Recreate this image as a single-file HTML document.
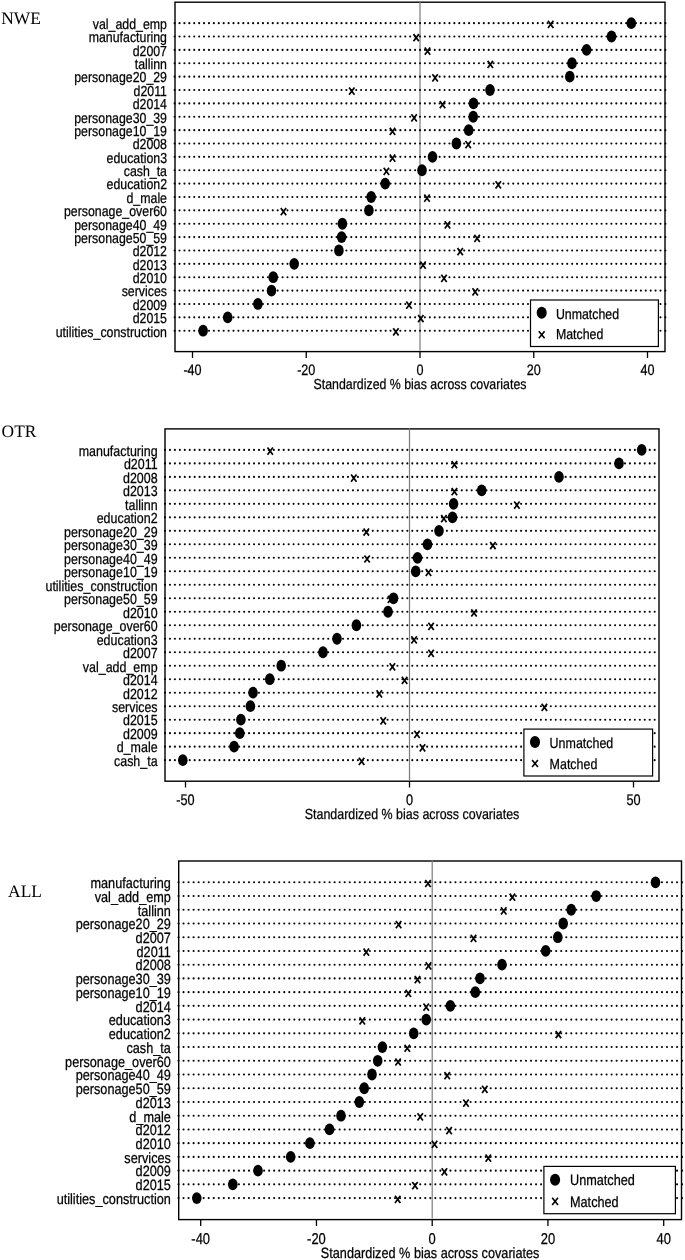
<!DOCTYPE html><html><head><meta charset="utf-8"><title>pstest</title><style>html,body{margin:0;padding:0;background:#fff;}body{width:685px;height:1260px;overflow:hidden;}svg{display:block;will-change:transform;}.t{font-family:"Liberation Sans", sans-serif;font-size:14.5px;fill:#000;stroke:#000;stroke-width:0.25px;text-rendering:geometricPrecision;}.n{font-family:"Liberation Serif", serif;fill:#000;text-rendering:geometricPrecision;}</style></head><body>
<svg width="685" height="1260" viewBox="0 0 685 1260">
<rect width="685" height="1260" fill="#fff"/>
<defs><g id="r0"><circle cx="174.6" cy="0" r="1.05"/><circle cx="179.51" cy="0" r="1.05"/><circle cx="184.42" cy="0" r="1.05"/><circle cx="189.32" cy="0" r="1.05"/><circle cx="194.23" cy="0" r="1.05"/><circle cx="199.14" cy="0" r="1.05"/><circle cx="204.05" cy="0" r="1.05"/><circle cx="208.96" cy="0" r="1.05"/><circle cx="213.86" cy="0" r="1.05"/><circle cx="218.77" cy="0" r="1.05"/><circle cx="223.68" cy="0" r="1.05"/><circle cx="228.59" cy="0" r="1.05"/><circle cx="233.5" cy="0" r="1.05"/><circle cx="238.4" cy="0" r="1.05"/><circle cx="243.31" cy="0" r="1.05"/><circle cx="248.22" cy="0" r="1.05"/><circle cx="253.13" cy="0" r="1.05"/><circle cx="258.04" cy="0" r="1.05"/><circle cx="262.94" cy="0" r="1.05"/><circle cx="267.85" cy="0" r="1.05"/><circle cx="272.76" cy="0" r="1.05"/><circle cx="277.67" cy="0" r="1.05"/><circle cx="282.58" cy="0" r="1.05"/><circle cx="287.48" cy="0" r="1.05"/><circle cx="292.39" cy="0" r="1.05"/><circle cx="297.3" cy="0" r="1.05"/><circle cx="302.21" cy="0" r="1.05"/><circle cx="307.12" cy="0" r="1.05"/><circle cx="312.02" cy="0" r="1.05"/><circle cx="316.93" cy="0" r="1.05"/><circle cx="321.84" cy="0" r="1.05"/><circle cx="326.75" cy="0" r="1.05"/><circle cx="331.66" cy="0" r="1.05"/><circle cx="336.56" cy="0" r="1.05"/><circle cx="341.47" cy="0" r="1.05"/><circle cx="346.38" cy="0" r="1.05"/><circle cx="351.29" cy="0" r="1.05"/><circle cx="356.2" cy="0" r="1.05"/><circle cx="361.1" cy="0" r="1.05"/><circle cx="366.01" cy="0" r="1.05"/><circle cx="370.92" cy="0" r="1.05"/><circle cx="375.83" cy="0" r="1.05"/><circle cx="380.74" cy="0" r="1.05"/><circle cx="385.64" cy="0" r="1.05"/><circle cx="390.55" cy="0" r="1.05"/><circle cx="395.46" cy="0" r="1.05"/><circle cx="400.37" cy="0" r="1.05"/><circle cx="405.28" cy="0" r="1.05"/><circle cx="410.18" cy="0" r="1.05"/><circle cx="415.09" cy="0" r="1.05"/><circle cx="420" cy="0" r="1.05"/><circle cx="424.91" cy="0" r="1.05"/><circle cx="429.82" cy="0" r="1.05"/><circle cx="434.72" cy="0" r="1.05"/><circle cx="439.63" cy="0" r="1.05"/><circle cx="444.54" cy="0" r="1.05"/><circle cx="449.45" cy="0" r="1.05"/><circle cx="454.36" cy="0" r="1.05"/><circle cx="459.26" cy="0" r="1.05"/><circle cx="464.17" cy="0" r="1.05"/><circle cx="469.08" cy="0" r="1.05"/><circle cx="473.99" cy="0" r="1.05"/><circle cx="478.9" cy="0" r="1.05"/><circle cx="483.8" cy="0" r="1.05"/><circle cx="488.71" cy="0" r="1.05"/><circle cx="493.62" cy="0" r="1.05"/><circle cx="498.53" cy="0" r="1.05"/><circle cx="503.44" cy="0" r="1.05"/><circle cx="508.34" cy="0" r="1.05"/><circle cx="513.25" cy="0" r="1.05"/><circle cx="518.16" cy="0" r="1.05"/><circle cx="523.07" cy="0" r="1.05"/><circle cx="527.98" cy="0" r="1.05"/><circle cx="532.88" cy="0" r="1.05"/><circle cx="537.79" cy="0" r="1.05"/><circle cx="542.7" cy="0" r="1.05"/><circle cx="547.61" cy="0" r="1.05"/><circle cx="552.52" cy="0" r="1.05"/><circle cx="557.42" cy="0" r="1.05"/><circle cx="562.33" cy="0" r="1.05"/><circle cx="567.24" cy="0" r="1.05"/><circle cx="572.15" cy="0" r="1.05"/><circle cx="577.06" cy="0" r="1.05"/><circle cx="581.96" cy="0" r="1.05"/><circle cx="586.87" cy="0" r="1.05"/><circle cx="591.78" cy="0" r="1.05"/><circle cx="596.69" cy="0" r="1.05"/><circle cx="601.6" cy="0" r="1.05"/><circle cx="606.5" cy="0" r="1.05"/><circle cx="611.41" cy="0" r="1.05"/><circle cx="616.32" cy="0" r="1.05"/><circle cx="621.23" cy="0" r="1.05"/><circle cx="626.14" cy="0" r="1.05"/><circle cx="631.04" cy="0" r="1.05"/><circle cx="635.95" cy="0" r="1.05"/><circle cx="640.86" cy="0" r="1.05"/><circle cx="645.77" cy="0" r="1.05"/><circle cx="650.68" cy="0" r="1.05"/><circle cx="655.58" cy="0" r="1.05"/><circle cx="660.49" cy="0" r="1.05"/><circle cx="665.4" cy="0" r="1.05"/></g><g id="r1"><circle cx="165" cy="0" r="1.05"/><circle cx="169.95" cy="0" r="1.05"/><circle cx="174.89" cy="0" r="1.05"/><circle cx="179.84" cy="0" r="1.05"/><circle cx="184.78" cy="0" r="1.05"/><circle cx="189.73" cy="0" r="1.05"/><circle cx="194.68" cy="0" r="1.05"/><circle cx="199.62" cy="0" r="1.05"/><circle cx="204.57" cy="0" r="1.05"/><circle cx="209.51" cy="0" r="1.05"/><circle cx="214.46" cy="0" r="1.05"/><circle cx="219.41" cy="0" r="1.05"/><circle cx="224.35" cy="0" r="1.05"/><circle cx="229.3" cy="0" r="1.05"/><circle cx="234.24" cy="0" r="1.05"/><circle cx="239.19" cy="0" r="1.05"/><circle cx="244.14" cy="0" r="1.05"/><circle cx="249.08" cy="0" r="1.05"/><circle cx="254.03" cy="0" r="1.05"/><circle cx="258.97" cy="0" r="1.05"/><circle cx="263.92" cy="0" r="1.05"/><circle cx="268.87" cy="0" r="1.05"/><circle cx="273.81" cy="0" r="1.05"/><circle cx="278.76" cy="0" r="1.05"/><circle cx="283.7" cy="0" r="1.05"/><circle cx="288.65" cy="0" r="1.05"/><circle cx="293.6" cy="0" r="1.05"/><circle cx="298.54" cy="0" r="1.05"/><circle cx="303.49" cy="0" r="1.05"/><circle cx="308.43" cy="0" r="1.05"/><circle cx="313.38" cy="0" r="1.05"/><circle cx="318.33" cy="0" r="1.05"/><circle cx="323.27" cy="0" r="1.05"/><circle cx="328.22" cy="0" r="1.05"/><circle cx="333.16" cy="0" r="1.05"/><circle cx="338.11" cy="0" r="1.05"/><circle cx="343.06" cy="0" r="1.05"/><circle cx="348" cy="0" r="1.05"/><circle cx="352.95" cy="0" r="1.05"/><circle cx="357.89" cy="0" r="1.05"/><circle cx="362.84" cy="0" r="1.05"/><circle cx="367.79" cy="0" r="1.05"/><circle cx="372.73" cy="0" r="1.05"/><circle cx="377.68" cy="0" r="1.05"/><circle cx="382.62" cy="0" r="1.05"/><circle cx="387.57" cy="0" r="1.05"/><circle cx="392.52" cy="0" r="1.05"/><circle cx="397.46" cy="0" r="1.05"/><circle cx="402.41" cy="0" r="1.05"/><circle cx="407.35" cy="0" r="1.05"/><circle cx="412.3" cy="0" r="1.05"/><circle cx="417.25" cy="0" r="1.05"/><circle cx="422.19" cy="0" r="1.05"/><circle cx="427.14" cy="0" r="1.05"/><circle cx="432.08" cy="0" r="1.05"/><circle cx="437.03" cy="0" r="1.05"/><circle cx="441.98" cy="0" r="1.05"/><circle cx="446.92" cy="0" r="1.05"/><circle cx="451.87" cy="0" r="1.05"/><circle cx="456.81" cy="0" r="1.05"/><circle cx="461.76" cy="0" r="1.05"/><circle cx="466.71" cy="0" r="1.05"/><circle cx="471.65" cy="0" r="1.05"/><circle cx="476.6" cy="0" r="1.05"/><circle cx="481.54" cy="0" r="1.05"/><circle cx="486.49" cy="0" r="1.05"/><circle cx="491.44" cy="0" r="1.05"/><circle cx="496.38" cy="0" r="1.05"/><circle cx="501.33" cy="0" r="1.05"/><circle cx="506.27" cy="0" r="1.05"/><circle cx="511.22" cy="0" r="1.05"/><circle cx="516.17" cy="0" r="1.05"/><circle cx="521.11" cy="0" r="1.05"/><circle cx="526.06" cy="0" r="1.05"/><circle cx="531" cy="0" r="1.05"/><circle cx="535.95" cy="0" r="1.05"/><circle cx="540.9" cy="0" r="1.05"/><circle cx="545.84" cy="0" r="1.05"/><circle cx="550.79" cy="0" r="1.05"/><circle cx="555.73" cy="0" r="1.05"/><circle cx="560.68" cy="0" r="1.05"/><circle cx="565.63" cy="0" r="1.05"/><circle cx="570.57" cy="0" r="1.05"/><circle cx="575.52" cy="0" r="1.05"/><circle cx="580.46" cy="0" r="1.05"/><circle cx="585.41" cy="0" r="1.05"/><circle cx="590.36" cy="0" r="1.05"/><circle cx="595.3" cy="0" r="1.05"/><circle cx="600.25" cy="0" r="1.05"/><circle cx="605.19" cy="0" r="1.05"/><circle cx="610.14" cy="0" r="1.05"/><circle cx="615.09" cy="0" r="1.05"/><circle cx="620.03" cy="0" r="1.05"/><circle cx="624.98" cy="0" r="1.05"/><circle cx="629.92" cy="0" r="1.05"/><circle cx="634.87" cy="0" r="1.05"/><circle cx="639.82" cy="0" r="1.05"/><circle cx="644.76" cy="0" r="1.05"/><circle cx="649.71" cy="0" r="1.05"/><circle cx="654.65" cy="0" r="1.05"/></g><g id="r2"><circle cx="178.5" cy="0" r="1.05"/><circle cx="183.54" cy="0" r="1.05"/><circle cx="188.57" cy="0" r="1.05"/><circle cx="193.61" cy="0" r="1.05"/><circle cx="198.64" cy="0" r="1.05"/><circle cx="203.68" cy="0" r="1.05"/><circle cx="208.72" cy="0" r="1.05"/><circle cx="213.75" cy="0" r="1.05"/><circle cx="218.79" cy="0" r="1.05"/><circle cx="223.82" cy="0" r="1.05"/><circle cx="228.86" cy="0" r="1.05"/><circle cx="233.9" cy="0" r="1.05"/><circle cx="238.93" cy="0" r="1.05"/><circle cx="243.97" cy="0" r="1.05"/><circle cx="249" cy="0" r="1.05"/><circle cx="254.04" cy="0" r="1.05"/><circle cx="259.08" cy="0" r="1.05"/><circle cx="264.11" cy="0" r="1.05"/><circle cx="269.15" cy="0" r="1.05"/><circle cx="274.18" cy="0" r="1.05"/><circle cx="279.22" cy="0" r="1.05"/><circle cx="284.26" cy="0" r="1.05"/><circle cx="289.29" cy="0" r="1.05"/><circle cx="294.33" cy="0" r="1.05"/><circle cx="299.36" cy="0" r="1.05"/><circle cx="304.4" cy="0" r="1.05"/><circle cx="309.44" cy="0" r="1.05"/><circle cx="314.47" cy="0" r="1.05"/><circle cx="319.51" cy="0" r="1.05"/><circle cx="324.54" cy="0" r="1.05"/><circle cx="329.58" cy="0" r="1.05"/><circle cx="334.62" cy="0" r="1.05"/><circle cx="339.65" cy="0" r="1.05"/><circle cx="344.69" cy="0" r="1.05"/><circle cx="349.72" cy="0" r="1.05"/><circle cx="354.76" cy="0" r="1.05"/><circle cx="359.8" cy="0" r="1.05"/><circle cx="364.83" cy="0" r="1.05"/><circle cx="369.87" cy="0" r="1.05"/><circle cx="374.9" cy="0" r="1.05"/><circle cx="379.94" cy="0" r="1.05"/><circle cx="384.98" cy="0" r="1.05"/><circle cx="390.01" cy="0" r="1.05"/><circle cx="395.05" cy="0" r="1.05"/><circle cx="400.08" cy="0" r="1.05"/><circle cx="405.12" cy="0" r="1.05"/><circle cx="410.16" cy="0" r="1.05"/><circle cx="415.19" cy="0" r="1.05"/><circle cx="420.23" cy="0" r="1.05"/><circle cx="425.26" cy="0" r="1.05"/><circle cx="430.3" cy="0" r="1.05"/><circle cx="435.34" cy="0" r="1.05"/><circle cx="440.37" cy="0" r="1.05"/><circle cx="445.41" cy="0" r="1.05"/><circle cx="450.44" cy="0" r="1.05"/><circle cx="455.48" cy="0" r="1.05"/><circle cx="460.52" cy="0" r="1.05"/><circle cx="465.55" cy="0" r="1.05"/><circle cx="470.59" cy="0" r="1.05"/><circle cx="475.62" cy="0" r="1.05"/><circle cx="480.66" cy="0" r="1.05"/><circle cx="485.7" cy="0" r="1.05"/><circle cx="490.73" cy="0" r="1.05"/><circle cx="495.77" cy="0" r="1.05"/><circle cx="500.8" cy="0" r="1.05"/><circle cx="505.84" cy="0" r="1.05"/><circle cx="510.88" cy="0" r="1.05"/><circle cx="515.91" cy="0" r="1.05"/><circle cx="520.95" cy="0" r="1.05"/><circle cx="525.98" cy="0" r="1.05"/><circle cx="531.02" cy="0" r="1.05"/><circle cx="536.06" cy="0" r="1.05"/><circle cx="541.09" cy="0" r="1.05"/><circle cx="546.13" cy="0" r="1.05"/><circle cx="551.16" cy="0" r="1.05"/><circle cx="556.2" cy="0" r="1.05"/><circle cx="561.24" cy="0" r="1.05"/><circle cx="566.27" cy="0" r="1.05"/><circle cx="571.31" cy="0" r="1.05"/><circle cx="576.34" cy="0" r="1.05"/><circle cx="581.38" cy="0" r="1.05"/><circle cx="586.42" cy="0" r="1.05"/><circle cx="591.45" cy="0" r="1.05"/><circle cx="596.49" cy="0" r="1.05"/><circle cx="601.52" cy="0" r="1.05"/><circle cx="606.56" cy="0" r="1.05"/><circle cx="611.6" cy="0" r="1.05"/><circle cx="616.63" cy="0" r="1.05"/><circle cx="621.67" cy="0" r="1.05"/><circle cx="626.7" cy="0" r="1.05"/><circle cx="631.74" cy="0" r="1.05"/><circle cx="636.78" cy="0" r="1.05"/><circle cx="641.81" cy="0" r="1.05"/><circle cx="646.85" cy="0" r="1.05"/><circle cx="651.88" cy="0" r="1.05"/><circle cx="656.92" cy="0" r="1.05"/><circle cx="661.96" cy="0" r="1.05"/><circle cx="666.99" cy="0" r="1.05"/><circle cx="672.03" cy="0" r="1.05"/><circle cx="677.06" cy="0" r="1.05"/><circle cx="682.1" cy="0" r="1.05"/></g></defs>
<g><text class="n" x="1.3" y="24.0" font-size="17.4">NWE</text><rect x="175" y="2.2" width="490" height="349.4" fill="none" stroke="#000" stroke-width="1.4"/><line x1="420" y1="1.5" x2="420" y2="350.4" stroke="#7a7a7a" stroke-width="1.2"/><use href="#r0" y="23.15"/><use href="#r0" y="36.52"/><use href="#r0" y="49.89"/><use href="#r0" y="63.27"/><use href="#r0" y="76.64"/><use href="#r0" y="90.01"/><use href="#r0" y="103.38"/><use href="#r0" y="116.75"/><use href="#r0" y="130.13"/><use href="#r0" y="143.5"/><use href="#r0" y="156.87"/><use href="#r0" y="170.24"/><use href="#r0" y="183.61"/><use href="#r0" y="196.99"/><use href="#r0" y="210.36"/><use href="#r0" y="223.73"/><use href="#r0" y="237.1"/><use href="#r0" y="250.47"/><use href="#r0" y="263.85"/><use href="#r0" y="277.22"/><use href="#r0" y="290.59"/><use href="#r0" y="303.96"/><use href="#r0" y="317.33"/><use href="#r0" y="330.71"/><text class="t" transform="matrix(0.8520,0,0,1.0000,167,28.95)" text-anchor="end">val_add_emp</text><text class="t" transform="matrix(0.8520,0,0,1.0000,167,42.32)" text-anchor="end">manufacturing</text><text class="t" transform="matrix(0.8520,0,0,1.0000,167,55.69)" text-anchor="end">d2007</text><text class="t" transform="matrix(0.8520,0,0,1.0000,167,69.07)" text-anchor="end">tallinn</text><text class="t" transform="matrix(0.8520,0,0,1.0000,167,82.44)" text-anchor="end">personage20_29</text><text class="t" transform="matrix(0.8520,0,0,1.0000,167,95.81)" text-anchor="end">d2011</text><text class="t" transform="matrix(0.8520,0,0,1.0000,167,109.18)" text-anchor="end">d2014</text><text class="t" transform="matrix(0.8520,0,0,1.0000,167,122.55)" text-anchor="end">personage30_39</text><text class="t" transform="matrix(0.8520,0,0,1.0000,167,135.93)" text-anchor="end">personage10_19</text><text class="t" transform="matrix(0.8520,0,0,1.0000,167,149.3)" text-anchor="end">d2008</text><text class="t" transform="matrix(0.8520,0,0,1.0000,167,162.67)" text-anchor="end">education3</text><text class="t" transform="matrix(0.8520,0,0,1.0000,167,176.04)" text-anchor="end">cash_ta</text><text class="t" transform="matrix(0.8520,0,0,1.0000,167,189.41)" text-anchor="end">education2</text><text class="t" transform="matrix(0.8520,0,0,1.0000,167,202.79)" text-anchor="end">d_male</text><text class="t" transform="matrix(0.8520,0,0,1.0000,167,216.16)" text-anchor="end">personage_over60</text><text class="t" transform="matrix(0.8520,0,0,1.0000,167,229.53)" text-anchor="end">personage40_49</text><text class="t" transform="matrix(0.8520,0,0,1.0000,167,242.9)" text-anchor="end">personage50_59</text><text class="t" transform="matrix(0.8520,0,0,1.0000,167,256.27)" text-anchor="end">d2012</text><text class="t" transform="matrix(0.8520,0,0,1.0000,167,269.65)" text-anchor="end">d2013</text><text class="t" transform="matrix(0.8520,0,0,1.0000,167,283.02)" text-anchor="end">d2010</text><text class="t" transform="matrix(0.8520,0,0,1.0000,167,296.39)" text-anchor="end">services</text><text class="t" transform="matrix(0.8520,0,0,1.0000,167,309.76)" text-anchor="end">d2009</text><text class="t" transform="matrix(0.8520,0,0,1.0000,167,323.13)" text-anchor="end">d2015</text><text class="t" transform="matrix(0.8520,0,0,1.0000,167,336.51)" text-anchor="end">utilities_construction</text><path d="M548.00 20.75L553.40 27.95M548.00 27.95L553.40 20.75" stroke="#000" stroke-width="1.7" fill="none"/><path d="M413.50 34.12L418.90 41.32M413.50 41.32L418.90 34.12" stroke="#000" stroke-width="1.7" fill="none"/><path d="M424.80 47.49L430.20 54.69M424.80 54.69L430.20 47.49" stroke="#000" stroke-width="1.7" fill="none"/><path d="M487.60 60.87L493.00 68.07M487.60 68.07L493.00 60.87" stroke="#000" stroke-width="1.7" fill="none"/><path d="M432.40 74.24L437.80 81.44M432.40 81.44L437.80 74.24" stroke="#000" stroke-width="1.7" fill="none"/><path d="M349.10 87.61L354.50 94.81M349.10 94.81L354.50 87.61" stroke="#000" stroke-width="1.7" fill="none"/><path d="M439.80 100.98L445.20 108.18M439.80 108.18L445.20 100.98" stroke="#000" stroke-width="1.7" fill="none"/><path d="M411.40 114.35L416.80 121.55M411.40 121.55L416.80 114.35" stroke="#000" stroke-width="1.7" fill="none"/><path d="M389.80 127.73L395.20 134.93M389.80 134.93L395.20 127.73" stroke="#000" stroke-width="1.7" fill="none"/><path d="M465.50 141.10L470.90 148.30M465.50 148.30L470.90 141.10" stroke="#000" stroke-width="1.7" fill="none"/><path d="M389.80 154.47L395.20 161.67M389.80 161.67L395.20 154.47" stroke="#000" stroke-width="1.7" fill="none"/><path d="M383.70 167.84L389.10 175.04M383.70 175.04L389.10 167.84" stroke="#000" stroke-width="1.7" fill="none"/><path d="M495.60 181.21L501.00 188.41M495.60 188.41L501.00 181.21" stroke="#000" stroke-width="1.7" fill="none"/><path d="M424.30 194.59L429.70 201.79M424.30 201.79L429.70 194.59" stroke="#000" stroke-width="1.7" fill="none"/><path d="M280.80 207.96L286.20 215.16M280.80 215.16L286.20 207.96" stroke="#000" stroke-width="1.7" fill="none"/><path d="M444.80 221.33L450.20 228.53M444.80 228.53L450.20 221.33" stroke="#000" stroke-width="1.7" fill="none"/><path d="M474.40 234.70L479.80 241.90M474.40 241.90L479.80 234.70" stroke="#000" stroke-width="1.7" fill="none"/><path d="M457.50 248.07L462.90 255.27M457.50 255.27L462.90 248.07" stroke="#000" stroke-width="1.7" fill="none"/><path d="M420.30 261.45L425.70 268.65M420.30 268.65L425.70 261.45" stroke="#000" stroke-width="1.7" fill="none"/><path d="M441.30 274.82L446.70 282.02M441.30 282.02L446.70 274.82" stroke="#000" stroke-width="1.7" fill="none"/><path d="M472.50 288.19L477.90 295.39M472.50 295.39L477.90 288.19" stroke="#000" stroke-width="1.7" fill="none"/><path d="M406.30 301.56L411.70 308.76M406.30 308.76L411.70 301.56" stroke="#000" stroke-width="1.7" fill="none"/><path d="M418.10 314.93L423.50 322.13M418.10 322.13L423.50 314.93" stroke="#000" stroke-width="1.7" fill="none"/><path d="M393.20 328.31L398.60 335.51M393.20 335.51L398.60 328.31" stroke="#000" stroke-width="1.7" fill="none"/><ellipse cx="631.3" cy="23.15" rx="4.8" ry="5.9"/><ellipse cx="611.5" cy="36.52" rx="4.8" ry="5.9"/><ellipse cx="586.6" cy="49.89" rx="4.8" ry="5.9"/><ellipse cx="572" cy="63.27" rx="4.8" ry="5.9"/><ellipse cx="569.8" cy="76.64" rx="4.8" ry="5.9"/><ellipse cx="490" cy="90.01" rx="4.8" ry="5.9"/><ellipse cx="473.5" cy="103.38" rx="4.8" ry="5.9"/><ellipse cx="473.2" cy="116.75" rx="4.8" ry="5.9"/><ellipse cx="468.7" cy="130.13" rx="4.8" ry="5.9"/><ellipse cx="456.4" cy="143.5" rx="4.8" ry="5.9"/><ellipse cx="432.5" cy="156.87" rx="4.8" ry="5.9"/><ellipse cx="422" cy="170.24" rx="4.8" ry="5.9"/><ellipse cx="385.2" cy="183.61" rx="4.8" ry="5.9"/><ellipse cx="371.2" cy="196.99" rx="4.8" ry="5.9"/><ellipse cx="368.9" cy="210.36" rx="4.8" ry="5.9"/><ellipse cx="342.4" cy="223.73" rx="4.8" ry="5.9"/><ellipse cx="341.6" cy="237.1" rx="4.8" ry="5.9"/><ellipse cx="338.9" cy="250.47" rx="4.8" ry="5.9"/><ellipse cx="294.2" cy="263.85" rx="4.8" ry="5.9"/><ellipse cx="273.2" cy="277.22" rx="4.8" ry="5.9"/><ellipse cx="271.5" cy="290.59" rx="4.8" ry="5.9"/><ellipse cx="257.9" cy="303.96" rx="4.8" ry="5.9"/><ellipse cx="227.7" cy="317.33" rx="4.8" ry="5.9"/><ellipse cx="203.1" cy="330.71" rx="4.8" ry="5.9"/><line x1="192.5" y1="351.6" x2="192.5" y2="357.9" stroke="#000" stroke-width="1.3"/><text class="t" transform="matrix(0.8690,0,0,1.0500,192.5,374.8)" text-anchor="middle">-40</text><line x1="306.25" y1="351.6" x2="306.25" y2="357.9" stroke="#000" stroke-width="1.3"/><text class="t" transform="matrix(0.8690,0,0,1.0500,306.25,374.8)" text-anchor="middle">-20</text><line x1="420" y1="351.6" x2="420" y2="357.9" stroke="#000" stroke-width="1.3"/><text class="t" transform="matrix(0.8690,0,0,1.0500,420,374.8)" text-anchor="middle">0</text><line x1="533.75" y1="351.6" x2="533.75" y2="357.9" stroke="#000" stroke-width="1.3"/><text class="t" transform="matrix(0.8690,0,0,1.0500,533.75,374.8)" text-anchor="middle">20</text><line x1="647.5" y1="351.6" x2="647.5" y2="357.9" stroke="#000" stroke-width="1.3"/><text class="t" transform="matrix(0.8690,0,0,1.0500,647.5,374.8)" text-anchor="middle">40</text><text class="t" transform="matrix(0.8520,0,0,1.0000,420,389)" text-anchor="middle">Standardized % bias across covariates</text><rect x="530.5" y="300" width="127.9" height="46.5" fill="#fff" stroke="#000" stroke-width="1.2"/><ellipse cx="541.7" cy="312.8" rx="5.05" ry="5.95"/><path d="M538.80 331.15L544.60 338.25M538.80 338.25L544.60 331.15" stroke="#000" stroke-width="1.6" fill="none"/><text class="t" transform="matrix(0.8520,0,0,1.0000,555.9,318.6)">Unmatched</text><text class="t" transform="matrix(0.8520,0,0,1.0000,555.9,339)">Matched</text></g>
<g><text class="n" x="1.6" y="436.5" font-size="17.4">OTR</text><rect x="165" y="428.9" width="494" height="352.3" fill="none" stroke="#000" stroke-width="1.4"/><line x1="409.5" y1="428.2" x2="409.5" y2="780" stroke="#7a7a7a" stroke-width="1.2"/><use href="#r1" y="449.9"/><use href="#r1" y="463.39"/><use href="#r1" y="476.88"/><use href="#r1" y="490.37"/><use href="#r1" y="503.86"/><use href="#r1" y="517.35"/><use href="#r1" y="530.83"/><use href="#r1" y="544.32"/><use href="#r1" y="557.81"/><use href="#r1" y="571.3"/><use href="#r1" y="584.79"/><use href="#r1" y="598.28"/><use href="#r1" y="611.77"/><use href="#r1" y="625.26"/><use href="#r1" y="638.75"/><use href="#r1" y="652.24"/><use href="#r1" y="665.72"/><use href="#r1" y="679.21"/><use href="#r1" y="692.7"/><use href="#r1" y="706.19"/><use href="#r1" y="719.68"/><use href="#r1" y="733.17"/><use href="#r1" y="746.66"/><use href="#r1" y="760.15"/><text class="t" transform="matrix(0.8588,0,0,1.0080,157.6,455.7)" text-anchor="end">manufacturing</text><text class="t" transform="matrix(0.8588,0,0,1.0080,157.6,469.19)" text-anchor="end">d2011</text><text class="t" transform="matrix(0.8588,0,0,1.0080,157.6,482.68)" text-anchor="end">d2008</text><text class="t" transform="matrix(0.8588,0,0,1.0080,157.6,496.17)" text-anchor="end">d2013</text><text class="t" transform="matrix(0.8588,0,0,1.0080,157.6,509.66)" text-anchor="end">tallinn</text><text class="t" transform="matrix(0.8588,0,0,1.0080,157.6,523.14)" text-anchor="end">education2</text><text class="t" transform="matrix(0.8588,0,0,1.0080,157.6,536.63)" text-anchor="end">personage20_29</text><text class="t" transform="matrix(0.8588,0,0,1.0080,157.6,550.12)" text-anchor="end">personage30_39</text><text class="t" transform="matrix(0.8588,0,0,1.0080,157.6,563.61)" text-anchor="end">personage40_49</text><text class="t" transform="matrix(0.8588,0,0,1.0080,157.6,577.1)" text-anchor="end">personage10_19</text><text class="t" transform="matrix(0.8588,0,0,1.0080,157.6,590.59)" text-anchor="end">utilities_construction</text><text class="t" transform="matrix(0.8588,0,0,1.0080,157.6,604.08)" text-anchor="end">personage50_59</text><text class="t" transform="matrix(0.8588,0,0,1.0080,157.6,617.57)" text-anchor="end">d2010</text><text class="t" transform="matrix(0.8588,0,0,1.0080,157.6,631.06)" text-anchor="end">personage_over60</text><text class="t" transform="matrix(0.8588,0,0,1.0080,157.6,644.55)" text-anchor="end">education3</text><text class="t" transform="matrix(0.8588,0,0,1.0080,157.6,658.03)" text-anchor="end">d2007</text><text class="t" transform="matrix(0.8588,0,0,1.0080,157.6,671.52)" text-anchor="end">val_add_emp</text><text class="t" transform="matrix(0.8588,0,0,1.0080,157.6,685.01)" text-anchor="end">d2014</text><text class="t" transform="matrix(0.8588,0,0,1.0080,157.6,698.5)" text-anchor="end">d2012</text><text class="t" transform="matrix(0.8588,0,0,1.0080,157.6,711.99)" text-anchor="end">services</text><text class="t" transform="matrix(0.8588,0,0,1.0080,157.6,725.48)" text-anchor="end">d2015</text><text class="t" transform="matrix(0.8588,0,0,1.0080,157.6,738.97)" text-anchor="end">d2009</text><text class="t" transform="matrix(0.8588,0,0,1.0080,157.6,752.46)" text-anchor="end">d_male</text><text class="t" transform="matrix(0.8588,0,0,1.0080,157.6,765.95)" text-anchor="end">cash_ta</text><path d="M267.50 447.50L272.90 454.70M267.50 454.70L272.90 447.50" stroke="#000" stroke-width="1.7" fill="none"/><path d="M451.70 460.99L457.10 468.19M451.70 468.19L457.10 460.99" stroke="#000" stroke-width="1.7" fill="none"/><path d="M351.10 474.48L356.50 481.68M351.10 481.68L356.50 474.48" stroke="#000" stroke-width="1.7" fill="none"/><path d="M451.70 487.97L457.10 495.17M451.70 495.17L457.10 487.97" stroke="#000" stroke-width="1.7" fill="none"/><path d="M514.20 501.46L519.60 508.66M514.20 508.66L519.60 501.46" stroke="#000" stroke-width="1.7" fill="none"/><path d="M441.20 514.95L446.60 522.15M441.20 522.15L446.60 514.95" stroke="#000" stroke-width="1.7" fill="none"/><path d="M363.60 528.43L369.00 535.63M363.60 535.63L369.00 528.43" stroke="#000" stroke-width="1.7" fill="none"/><path d="M490.20 541.92L495.60 549.12M490.20 549.12L495.60 541.92" stroke="#000" stroke-width="1.7" fill="none"/><path d="M364.40 555.41L369.80 562.61M364.40 562.61L369.80 555.41" stroke="#000" stroke-width="1.7" fill="none"/><path d="M425.80 568.90L431.20 576.10M425.80 576.10L431.20 568.90" stroke="#000" stroke-width="1.7" fill="none"/><path d="M387.90 595.88L393.30 603.08M387.90 603.08L393.30 595.88" stroke="#000" stroke-width="1.7" fill="none"/><path d="M471.30 609.37L476.70 616.57M471.30 616.57L476.70 609.37" stroke="#000" stroke-width="1.7" fill="none"/><path d="M428.40 622.86L433.80 630.06M428.40 630.06L433.80 622.86" stroke="#000" stroke-width="1.7" fill="none"/><path d="M411.40 636.35L416.80 643.55M411.40 643.55L416.80 636.35" stroke="#000" stroke-width="1.7" fill="none"/><path d="M428.40 649.84L433.80 657.04M428.40 657.04L433.80 649.84" stroke="#000" stroke-width="1.7" fill="none"/><path d="M389.70 663.32L395.10 670.52M389.70 670.52L395.10 663.32" stroke="#000" stroke-width="1.7" fill="none"/><path d="M401.90 676.81L407.30 684.01M401.90 684.01L407.30 676.81" stroke="#000" stroke-width="1.7" fill="none"/><path d="M376.60 690.30L382.00 697.50M376.60 697.50L382.00 690.30" stroke="#000" stroke-width="1.7" fill="none"/><path d="M541.70 703.79L547.10 710.99M541.70 710.99L547.10 703.79" stroke="#000" stroke-width="1.7" fill="none"/><path d="M380.50 717.28L385.90 724.48M380.50 724.48L385.90 717.28" stroke="#000" stroke-width="1.7" fill="none"/><path d="M414.30 730.77L419.70 737.97M414.30 737.97L419.70 730.77" stroke="#000" stroke-width="1.7" fill="none"/><path d="M419.80 744.26L425.20 751.46M419.80 751.46L425.20 744.26" stroke="#000" stroke-width="1.7" fill="none"/><path d="M358.90 757.75L364.30 764.95M358.90 764.95L364.30 757.75" stroke="#000" stroke-width="1.7" fill="none"/><ellipse cx="641.7" cy="449.9" rx="4.8" ry="5.9"/><ellipse cx="619" cy="463.39" rx="4.8" ry="5.9"/><ellipse cx="559" cy="476.88" rx="4.8" ry="5.9"/><ellipse cx="481.7" cy="490.37" rx="4.8" ry="5.9"/><ellipse cx="453.6" cy="503.86" rx="4.8" ry="5.9"/><ellipse cx="452.5" cy="517.35" rx="4.8" ry="5.9"/><ellipse cx="439" cy="530.83" rx="4.8" ry="5.9"/><ellipse cx="427.5" cy="544.32" rx="4.8" ry="5.9"/><ellipse cx="417.5" cy="557.81" rx="4.8" ry="5.9"/><ellipse cx="415.7" cy="571.3" rx="4.8" ry="5.9"/><ellipse cx="393.5" cy="598.28" rx="4.8" ry="5.9"/><ellipse cx="388" cy="611.77" rx="4.8" ry="5.9"/><ellipse cx="356.4" cy="625.26" rx="4.8" ry="5.9"/><ellipse cx="337" cy="638.75" rx="4.8" ry="5.9"/><ellipse cx="323" cy="652.24" rx="4.8" ry="5.9"/><ellipse cx="281.2" cy="665.72" rx="4.8" ry="5.9"/><ellipse cx="269.8" cy="679.21" rx="4.8" ry="5.9"/><ellipse cx="253" cy="692.7" rx="4.8" ry="5.9"/><ellipse cx="250.4" cy="706.19" rx="4.8" ry="5.9"/><ellipse cx="240.9" cy="719.68" rx="4.8" ry="5.9"/><ellipse cx="239.8" cy="733.17" rx="4.8" ry="5.9"/><ellipse cx="234.1" cy="746.66" rx="4.8" ry="5.9"/><ellipse cx="182.8" cy="760.15" rx="4.8" ry="5.9"/><line x1="185.5" y1="781.2" x2="185.5" y2="787.5" stroke="#000" stroke-width="1.3"/><text class="t" transform="matrix(0.8760,0,0,1.0584,185.5,804.8)" text-anchor="middle">-50</text><line x1="409.5" y1="781.2" x2="409.5" y2="787.5" stroke="#000" stroke-width="1.3"/><text class="t" transform="matrix(0.8760,0,0,1.0584,409.5,804.8)" text-anchor="middle">0</text><line x1="633.5" y1="781.2" x2="633.5" y2="787.5" stroke="#000" stroke-width="1.3"/><text class="t" transform="matrix(0.8760,0,0,1.0584,633.5,804.8)" text-anchor="middle">50</text><text class="t" transform="matrix(0.8588,0,0,1.0080,412,819.2)" text-anchor="middle">Standardized % bias across covariates</text><rect x="523.9" y="729.1" width="128.7" height="46.9" fill="#fff" stroke="#000" stroke-width="1.2"/><ellipse cx="535" cy="742.05" rx="5.05" ry="5.95"/><path d="M532.10 759.95L537.90 767.05M532.10 767.05L537.90 759.95" stroke="#000" stroke-width="1.6" fill="none"/><text class="t" transform="matrix(0.8588,0,0,1.0080,549.6,747.7)">Unmatched</text><text class="t" transform="matrix(0.8588,0,0,1.0080,549.6,768.7)">Matched</text></g>
<g><text class="n" x="8.1" y="896.5" font-size="17.4">ALL</text><rect x="178.7" y="861" width="502.8" height="358.6" fill="none" stroke="#000" stroke-width="1.4"/><line x1="432.2" y1="860.3" x2="432.2" y2="1218.4" stroke="#7a7a7a" stroke-width="1.2"/><use href="#r2" y="882.3"/><use href="#r2" y="896.03"/><use href="#r2" y="909.76"/><use href="#r2" y="923.49"/><use href="#r2" y="937.22"/><use href="#r2" y="950.95"/><use href="#r2" y="964.68"/><use href="#r2" y="978.41"/><use href="#r2" y="992.14"/><use href="#r2" y="1005.87"/><use href="#r2" y="1019.6"/><use href="#r2" y="1033.33"/><use href="#r2" y="1047.06"/><use href="#r2" y="1060.79"/><use href="#r2" y="1074.52"/><use href="#r2" y="1088.25"/><use href="#r2" y="1101.98"/><use href="#r2" y="1115.71"/><use href="#r2" y="1129.44"/><use href="#r2" y="1143.17"/><use href="#r2" y="1156.9"/><use href="#r2" y="1170.63"/><use href="#r2" y="1184.36"/><use href="#r2" y="1198.09"/><text class="t" transform="matrix(0.8750,0,0,1.0270,170.9,888.1)" text-anchor="end">manufacturing</text><text class="t" transform="matrix(0.8750,0,0,1.0270,170.9,901.83)" text-anchor="end">val_add_emp</text><text class="t" transform="matrix(0.8750,0,0,1.0270,170.9,915.56)" text-anchor="end">tallinn</text><text class="t" transform="matrix(0.8750,0,0,1.0270,170.9,929.29)" text-anchor="end">personage20_29</text><text class="t" transform="matrix(0.8750,0,0,1.0270,170.9,943.02)" text-anchor="end">d2007</text><text class="t" transform="matrix(0.8750,0,0,1.0270,170.9,956.75)" text-anchor="end">d2011</text><text class="t" transform="matrix(0.8750,0,0,1.0270,170.9,970.48)" text-anchor="end">d2008</text><text class="t" transform="matrix(0.8750,0,0,1.0270,170.9,984.21)" text-anchor="end">personage30_39</text><text class="t" transform="matrix(0.8750,0,0,1.0270,170.9,997.94)" text-anchor="end">personage10_19</text><text class="t" transform="matrix(0.8750,0,0,1.0270,170.9,1011.67)" text-anchor="end">d2014</text><text class="t" transform="matrix(0.8750,0,0,1.0270,170.9,1025.4)" text-anchor="end">education3</text><text class="t" transform="matrix(0.8750,0,0,1.0270,170.9,1039.13)" text-anchor="end">education2</text><text class="t" transform="matrix(0.8750,0,0,1.0270,170.9,1052.86)" text-anchor="end">cash_ta</text><text class="t" transform="matrix(0.8750,0,0,1.0270,170.9,1066.59)" text-anchor="end">personage_over60</text><text class="t" transform="matrix(0.8750,0,0,1.0270,170.9,1080.32)" text-anchor="end">personage40_49</text><text class="t" transform="matrix(0.8750,0,0,1.0270,170.9,1094.05)" text-anchor="end">personage50_59</text><text class="t" transform="matrix(0.8750,0,0,1.0270,170.9,1107.78)" text-anchor="end">d2013</text><text class="t" transform="matrix(0.8750,0,0,1.0270,170.9,1121.51)" text-anchor="end">d_male</text><text class="t" transform="matrix(0.8750,0,0,1.0270,170.9,1135.24)" text-anchor="end">d2012</text><text class="t" transform="matrix(0.8750,0,0,1.0270,170.9,1148.97)" text-anchor="end">d2010</text><text class="t" transform="matrix(0.8750,0,0,1.0270,170.9,1162.7)" text-anchor="end">services</text><text class="t" transform="matrix(0.8750,0,0,1.0270,170.9,1176.43)" text-anchor="end">d2009</text><text class="t" transform="matrix(0.8750,0,0,1.0270,170.9,1190.16)" text-anchor="end">d2015</text><text class="t" transform="matrix(0.8750,0,0,1.0270,170.9,1203.89)" text-anchor="end">utilities_construction</text><path d="M425.30 879.90L430.70 887.10M425.30 887.10L430.70 879.90" stroke="#000" stroke-width="1.7" fill="none"/><path d="M509.70 893.63L515.10 900.83M509.70 900.83L515.10 893.63" stroke="#000" stroke-width="1.7" fill="none"/><path d="M501.00 907.36L506.40 914.56M501.00 914.56L506.40 907.36" stroke="#000" stroke-width="1.7" fill="none"/><path d="M395.90 921.09L401.30 928.29M395.90 928.29L401.30 921.09" stroke="#000" stroke-width="1.7" fill="none"/><path d="M470.80 934.82L476.20 942.02M470.80 942.02L476.20 934.82" stroke="#000" stroke-width="1.7" fill="none"/><path d="M363.60 948.55L369.00 955.75M363.60 955.75L369.00 948.55" stroke="#000" stroke-width="1.7" fill="none"/><path d="M425.80 962.28L431.20 969.48M425.80 969.48L431.20 962.28" stroke="#000" stroke-width="1.7" fill="none"/><path d="M414.80 976.01L420.20 983.21M414.80 983.21L420.20 976.01" stroke="#000" stroke-width="1.7" fill="none"/><path d="M405.60 989.74L411.00 996.94M405.60 996.94L411.00 989.74" stroke="#000" stroke-width="1.7" fill="none"/><path d="M423.50 1003.47L428.90 1010.67M423.50 1010.67L428.90 1003.47" stroke="#000" stroke-width="1.7" fill="none"/><path d="M359.60 1017.20L365.00 1024.40M359.60 1024.40L365.00 1017.20" stroke="#000" stroke-width="1.7" fill="none"/><path d="M555.70 1030.93L561.10 1038.13M555.70 1038.13L561.10 1030.93" stroke="#000" stroke-width="1.7" fill="none"/><path d="M404.60 1044.66L410.00 1051.86M404.60 1051.86L410.00 1044.66" stroke="#000" stroke-width="1.7" fill="none"/><path d="M395.40 1058.39L400.80 1065.59M395.40 1065.59L400.80 1058.39" stroke="#000" stroke-width="1.7" fill="none"/><path d="M444.50 1072.12L449.90 1079.32M444.50 1079.32L449.90 1072.12" stroke="#000" stroke-width="1.7" fill="none"/><path d="M482.10 1085.85L487.50 1093.05M482.10 1093.05L487.50 1085.85" stroke="#000" stroke-width="1.7" fill="none"/><path d="M463.30 1099.58L468.70 1106.78M463.30 1106.78L468.70 1099.58" stroke="#000" stroke-width="1.7" fill="none"/><path d="M417.50 1113.31L422.90 1120.51M417.50 1120.51L422.90 1113.31" stroke="#000" stroke-width="1.7" fill="none"/><path d="M446.40 1127.04L451.80 1134.24M446.40 1134.24L451.80 1127.04" stroke="#000" stroke-width="1.7" fill="none"/><path d="M431.90 1140.77L437.30 1147.97M431.90 1147.97L437.30 1140.77" stroke="#000" stroke-width="1.7" fill="none"/><path d="M485.60 1154.50L491.00 1161.70M485.60 1161.70L491.00 1154.50" stroke="#000" stroke-width="1.7" fill="none"/><path d="M441.70 1168.23L447.10 1175.43M441.70 1175.43L447.10 1168.23" stroke="#000" stroke-width="1.7" fill="none"/><path d="M412.30 1181.96L417.70 1189.16M412.30 1189.16L417.70 1181.96" stroke="#000" stroke-width="1.7" fill="none"/><path d="M395.00 1195.69L400.40 1202.89M395.00 1202.89L400.40 1195.69" stroke="#000" stroke-width="1.7" fill="none"/><ellipse cx="655.5" cy="882.3" rx="4.8" ry="5.9"/><ellipse cx="596.2" cy="896.03" rx="4.8" ry="5.9"/><ellipse cx="571.2" cy="909.76" rx="4.8" ry="5.9"/><ellipse cx="563.2" cy="923.49" rx="4.8" ry="5.9"/><ellipse cx="557.8" cy="937.22" rx="4.8" ry="5.9"/><ellipse cx="545.7" cy="950.95" rx="4.8" ry="5.9"/><ellipse cx="502" cy="964.68" rx="4.8" ry="5.9"/><ellipse cx="480" cy="978.41" rx="4.8" ry="5.9"/><ellipse cx="475.3" cy="992.14" rx="4.8" ry="5.9"/><ellipse cx="450.4" cy="1005.87" rx="4.8" ry="5.9"/><ellipse cx="426.2" cy="1019.6" rx="4.8" ry="5.9"/><ellipse cx="413.7" cy="1033.33" rx="4.8" ry="5.9"/><ellipse cx="382.4" cy="1047.06" rx="4.8" ry="5.9"/><ellipse cx="377.7" cy="1060.79" rx="4.8" ry="5.9"/><ellipse cx="372" cy="1074.52" rx="4.8" ry="5.9"/><ellipse cx="364.2" cy="1088.25" rx="4.8" ry="5.9"/><ellipse cx="359.3" cy="1101.98" rx="4.8" ry="5.9"/><ellipse cx="341" cy="1115.71" rx="4.8" ry="5.9"/><ellipse cx="329.5" cy="1129.44" rx="4.8" ry="5.9"/><ellipse cx="309.9" cy="1143.17" rx="4.8" ry="5.9"/><ellipse cx="290.7" cy="1156.9" rx="4.8" ry="5.9"/><ellipse cx="258" cy="1170.63" rx="4.8" ry="5.9"/><ellipse cx="232.8" cy="1184.36" rx="4.8" ry="5.9"/><ellipse cx="196.8" cy="1198.09" rx="4.8" ry="5.9"/><line x1="200.7" y1="1219.6" x2="200.7" y2="1225.9" stroke="#000" stroke-width="1.3"/><text class="t" transform="matrix(0.8925,0,0,1.0783,200.7,1244)" text-anchor="middle">-40</text><line x1="316.45" y1="1219.6" x2="316.45" y2="1225.9" stroke="#000" stroke-width="1.3"/><text class="t" transform="matrix(0.8925,0,0,1.0783,316.45,1244)" text-anchor="middle">-20</text><line x1="432.2" y1="1219.6" x2="432.2" y2="1225.9" stroke="#000" stroke-width="1.3"/><text class="t" transform="matrix(0.8925,0,0,1.0783,432.2,1244)" text-anchor="middle">0</text><line x1="547.95" y1="1219.6" x2="547.95" y2="1225.9" stroke="#000" stroke-width="1.3"/><text class="t" transform="matrix(0.8925,0,0,1.0783,547.95,1244)" text-anchor="middle">20</text><line x1="663.7" y1="1219.6" x2="663.7" y2="1225.9" stroke="#000" stroke-width="1.3"/><text class="t" transform="matrix(0.8925,0,0,1.0783,663.7,1244)" text-anchor="middle">40</text><text class="t" transform="matrix(0.8750,0,0,1.0270,430.1,1258.1)" text-anchor="middle">Standardized % bias across covariates</text><rect x="543.9" y="1166.4" width="131.5" height="47.3" fill="#fff" stroke="#000" stroke-width="1.2"/><ellipse cx="555.1" cy="1179.7" rx="5.05" ry="5.95"/><path d="M552.20 1197.85L558.00 1204.95M552.20 1204.95L558.00 1197.85" stroke="#000" stroke-width="1.6" fill="none"/><text class="t" transform="matrix(0.8750,0,0,1.0270,570,1185.2)">Unmatched</text><text class="t" transform="matrix(0.8750,0,0,1.0270,570,1206.8)">Matched</text></g>
</svg></body></html>
